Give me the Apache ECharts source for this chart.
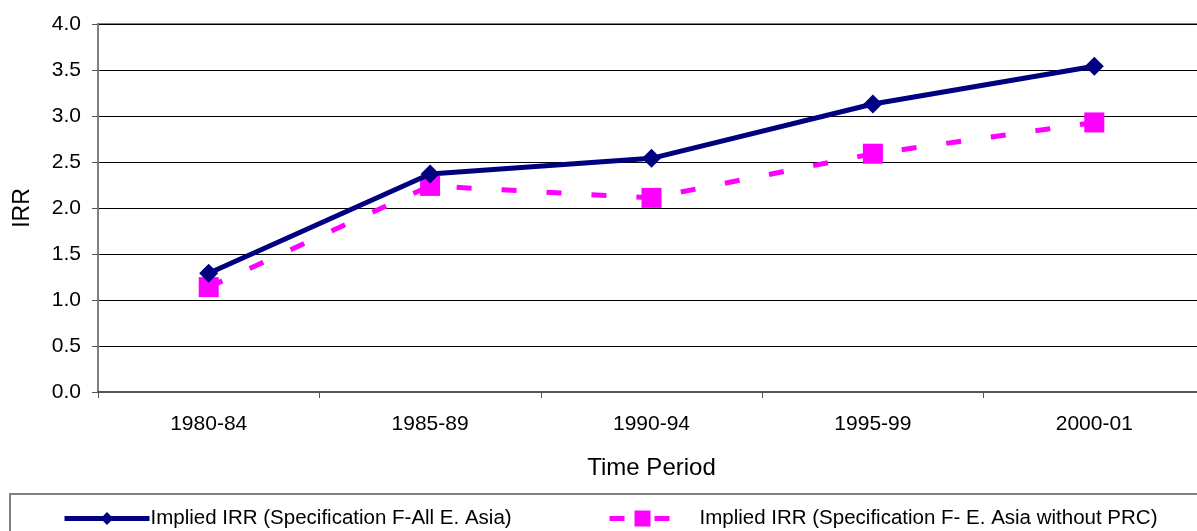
<!DOCTYPE html>
<html><head><meta charset="utf-8">
<script src="https://cdn.jsdelivr.net/npm/echarts@6/dist/echarts.min.js"></script>
<style>html,body{margin:0;padding:0;background:#fff}#c{width:1197px;height:531px}</style>
</head><body><div id="c"></div>
<script>
const categories = ['1980-84','1985-89','1990-94','1995-99','2000-01'];
const allEastAsia = [1.29, 2.37, 2.54, 3.13, 3.54];
const withoutPRC = [1.14, 2.24, 2.11, 2.59, 2.93];
const seriesNames = ['Implied IRR (Specification F-All E. Asia)', 'Implied IRR (Specification F- E. Asia without PRC)'];
const font = 'Liberation Sans, Arial, sans-serif';
const chart = echarts.init(document.getElementById('c'), null, {renderer:'canvas'});
chart.setOption({
  animation:false,
  backgroundColor:'#fff',
  grid:{left:98, top:24, width:1107, height:368, show:true, borderColor:'#808080', borderWidth:2,
    backgroundColor:'transparent', outerBoundsMode:'none', containLabel:false},
  xAxis:{type:'category', data:categories, boundaryGap:true,
    name:'Time Period', nameLocation:'middle', nameGap:64,
    nameTextStyle:{fontFamily:font, fontSize:24, color:'#000'},
    axisLine:{lineStyle:{color:'#555', width:2}},
    axisTick:{show:true, length:6, lineStyle:{color:'#555', width:1}},
    axisLabel:{fontFamily:font, fontSize:21, color:'#000', margin:22}},
  yAxis:{type:'value', min:0, max:4, interval:0.5,
    name:'IRR', nameLocation:'middle', nameGap:64, nameRotate:90,
    nameTextStyle:{fontFamily:font, fontSize:23, color:'#000'},
    axisLine:{show:true, lineStyle:{color:'#808080', width:2}},
    axisTick:{show:true, length:6, lineStyle:{color:'#555', width:1}},
    axisLabel:{fontFamily:font, fontSize:21, color:'#000', margin:17, formatter:v=>v.toFixed(1)},
    splitLine:{show:true, lineStyle:{color:'#000', width:1}}},
  legend:[
    {data:[seriesNames[0]], left:57, top:503, itemWidth:85, itemHeight:16, itemGap:0,
      lineStyle:{width:5},
      textStyle:{fontFamily:font, fontSize:20.5, color:'#000', padding:[0,0,0,-4]}},
    {data:[seriesNames[1]], left:602, top:503, itemWidth:66, itemHeight:20, itemGap:0,
      lineStyle:{width:5},
      textStyle:{fontFamily:font, fontSize:20.5, color:'#000', padding:[0,0,0,19]}}
  ],
  graphic:[{type:'rect', shape:{x:10, y:494, width:1200, height:60}, style:{fill:'none', stroke:'#808080', lineWidth:2}, z:-1}],
  series:[
    {name:seriesNames[0], type:'line', data:allEastAsia, symbol:'diamond', symbolSize:19,
      lineStyle:{color:'#000080', width:5}, itemStyle:{color:'#000080'}, z:3},
    {name:seriesNames[1], type:'line', data:withoutPRC, symbol:'rect', symbolSize:20,
      lineStyle:{color:'#FF00FF', width:5, type:[15,30], cap:'butt'}, itemStyle:{color:'#FF00FF'}, z:2}
  ]
});
</script></body></html>
